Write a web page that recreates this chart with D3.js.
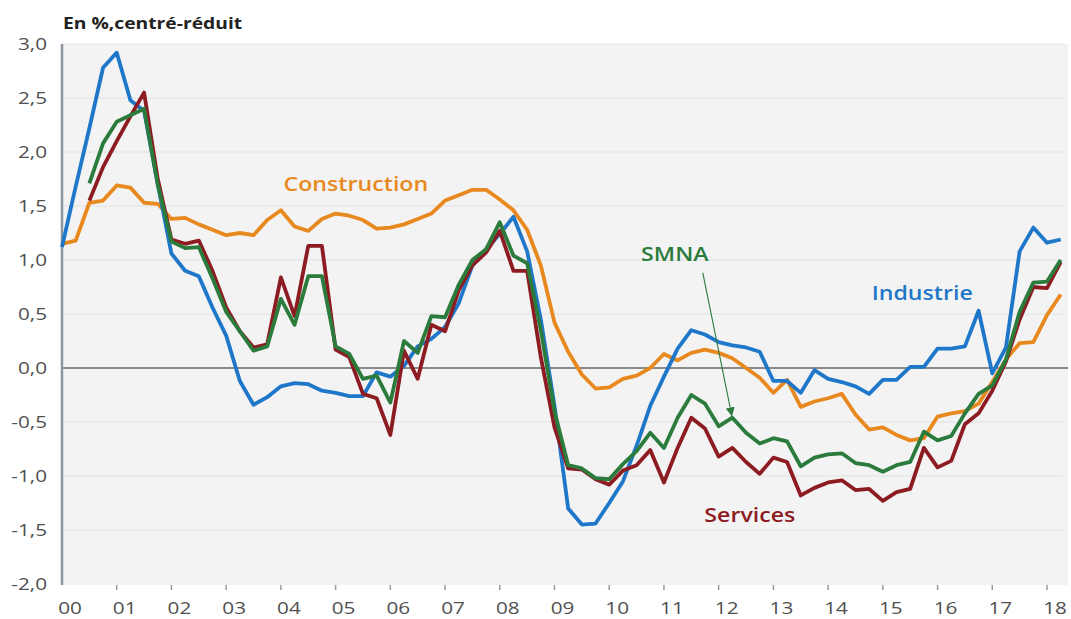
<!DOCTYPE html>
<html>
	<head>
		<meta charset="UTF-8">
		<script src="https://d3js.org/d3.v7.min.js"></script>
		<style>
			body { margin: 0; background: #fff; }
			text { font-family: "Open Sans", sans-serif; }
		</style>
	</head>
	<body>
		<svg width="1071" height="619"></svg>
		<script>
			// quarterly series, 2000Q1 .. 2018Q2 (null = not available)
			var industrie = [1.12, 1.68, 2.22, 2.78, 2.92, 2.48, 2.38, 1.70, 1.06, 0.90,
				0.85, 0.56, 0.30, -0.12, -0.34, -0.27, -0.17, -0.14, -0.15, -0.21,
				-0.23, -0.26, -0.26, -0.04, -0.08, 0.02, 0.20, 0.27, 0.38, 0.60,
				0.95, 1.10, 1.24, 1.40, 1.08, 0.45, -0.35, -1.30, -1.45, -1.44,
				-1.25, -1.05, -0.72, -0.35, -0.08, 0.18, 0.35, 0.31, 0.24, 0.21,
				0.19, 0.15, -0.12, -0.12, -0.23, -0.02, -0.10, -0.13, -0.17, -0.24,
				-0.11, -0.11, 0.01, 0.01, 0.18, 0.18, 0.20, 0.53, -0.05, 0.19,
				1.08, 1.30, 1.16, 1.19];
			var construction = [1.15, 1.18, 1.53, 1.55, 1.69, 1.67, 1.53, 1.52, 1.38, 1.39,
				1.33, 1.28, 1.23, 1.25, 1.23, 1.37, 1.46, 1.31, 1.27, 1.38,
				1.43, 1.41, 1.37, 1.29, 1.30, 1.33, 1.38, 1.43, 1.55, 1.60,
				1.65, 1.65, 1.56, 1.46, 1.28, 0.95, 0.42, 0.15, -0.06, -0.19,
				-0.18, -0.10, -0.07, 0.00, 0.13, 0.07, 0.14, 0.17, 0.14, 0.09,
				0.00, -0.09, -0.23, -0.11, -0.36, -0.31, -0.28, -0.24, -0.43, -0.57,
				-0.55, -0.62, -0.67, -0.65, -0.45, -0.42, -0.40, -0.33, -0.13, 0.08,
				0.23, 0.24, 0.49, 0.68];
			var services = [null, null, 1.55, 1.86, 2.10, 2.33, 2.55, 1.75, 1.19, 1.15,
				1.18, 0.90, 0.56, 0.34, 0.19, 0.22, 0.84, 0.48, 1.13, 1.13,
				0.17, 0.10, -0.24, -0.28, -0.62, 0.16, -0.10, 0.40, 0.34, 0.72,
				0.95, 1.07, 1.27, 0.90, 0.90, 0.10, -0.55, -0.93, -0.94, -1.03,
				-1.08, -0.95, -0.90, -0.76, -1.06, -0.74, -0.46, -0.56, -0.82, -0.74,
				-0.87, -0.98, -0.83, -0.87, -1.18, -1.11, -1.06, -1.04, -1.13, -1.12,
				-1.23, -1.15, -1.12, -0.74, -0.92, -0.86, -0.52, -0.42, -0.21, 0.06,
				0.45, 0.75, 0.74, 0.98];
			var smna = [null, null, 1.71, 2.08, 2.28, 2.34, 2.40, 1.70, 1.17, 1.11,
				1.12, 0.83, 0.52, 0.34, 0.16, 0.20, 0.64, 0.40, 0.85, 0.85,
				0.20, 0.13, -0.10, -0.07, -0.32, 0.25, 0.14, 0.48, 0.47, 0.77,
				1.00, 1.10, 1.35, 1.04, 0.97, 0.35, -0.40, -0.90, -0.93, -1.02,
				-1.03, -0.89, -0.77, -0.60, -0.74, -0.46, -0.25, -0.33, -0.54, -0.46,
				-0.60, -0.70, -0.65, -0.68, -0.91, -0.83, -0.80, -0.79, -0.88, -0.90,
				-0.96, -0.90, -0.87, -0.59, -0.67, -0.63, -0.42, -0.24, -0.16, 0.08,
				0.52, 0.79, 0.80, 1.00];

			var yearTicks = d3.range(0, 19);
			var yearLabels = ["00","01","02","03","04","05","06","07","08","09",
				"10","11","12","13","14","15","16","17","18"];
			var yTicks = [-2, -1.5, -1, -0.5, 0, 0.5, 1, 1.5, 2, 2.5, 3];

			var series = [
				{name: "Construction", values: construction, color: "#e8891f", lx: 5.37, ly: 1.70},
				{name: "Industrie", values: industrie, color: "#1f77c9", lx: 15.72, ly: 0.69},
				{name: "Services", values: services, color: "#8c1c22", lx: 12.57, ly: -1.36},
				{name: "SMNA", values: smna, color: "#2a7b3c", lx: 11.2, ly: 1.06}
			];

			var plotL = 62, plotR = 1068, plotT = 44, plotB = 584;
			var sx = 1.22; // glyphs in the original are drawn wide

			var x = d3.scaleLinear().domain([0, 18]).range([plotL, 1047]);
			var y = d3.scaleLinear().domain([-2, 3]).range([plotB, plotT]);

			var svg = d3.select("svg");

			function label(parent, px, py, str, size, weight, color, anchor) {
				return parent.append("g")
					.attr("transform", "translate(" + px + "," + py + ") scale(" + sx + ",1)")
					.append("text")
					.attr("font-size", size)
					.attr("font-weight", weight)
					.attr("fill", color)
					.attr("text-anchor", anchor)
					.text(str);
			}

			// plot panel
			svg.append("rect")
				.attr("x", plotL).attr("y", plotT)
				.attr("width", plotR - plotL).attr("height", plotB - plotT + 1)
				.attr("fill", "#f3f3f3");

			svg.append("g").selectAll("line")
				.data(yTicks.filter(function(d) { return d != 0 && d != -2; }))
				.enter().append("line")
				.attr("x1", plotL).attr("x2", plotR - 5)
				.attr("y1", function(d) { return y(d); })
				.attr("y2", function(d) { return y(d); })
				.attr("stroke", "#e1e1e1")
				.attr("stroke-width", 1.2);

			// y labels
			var fmt = d3.format(".1f");
			yTicks.forEach(function(d) {
				label(svg, 47, y(d) + 6, fmt(d).replace(".", ",").replace("−", "-"), 17, 400, "#505050", "end");
			});

			// x ticks + labels
			svg.append("g").selectAll("line")
				.data(yearTicks.slice(1))
				.enter().append("line")
				.attr("x1", function(d) { return x(d); })
				.attr("x2", function(d) { return x(d); })
				.attr("y1", plotB + 1).attr("y2", plotB + 6)
				.attr("stroke", "#9a9a9a")
				.attr("stroke-width", 1.5);
			yearTicks.forEach(function(d, i) {
				label(svg, x(d) + 8, 614, yearLabels[i], 17, 400, "#505050", "middle");
			});

			// zero line and left axis
			svg.append("line")
				.attr("x1", plotL).attr("x2", plotR)
				.attr("y1", y(0)).attr("y2", y(0))
				.attr("stroke", "#8a8a8a").attr("stroke-width", 2);
			svg.append("line")
				.attr("x1", plotL).attr("x2", plotL)
				.attr("y1", plotT).attr("y2", plotB + 1)
				.attr("stroke", "#8c96a0").attr("stroke-width", 2.5);

			// lines
			var line = d3.line()
				.defined(function(d) { return d != null; })
				.x(function(d, i) { return x(i / 4); })
				.y(function(d) { return y(d); });

			svg.append("g").selectAll("path")
				.data(series)
				.enter().append("path")
				.attr("d", function(s) { return line(s.values); })
				.attr("fill", "none")
				.attr("stroke", function(s) { return s.color; })
				.attr("stroke-width", 3.8)
				.attr("stroke-linejoin", "round");

			// series names
			series.forEach(function(s) {
				label(svg, x(s.lx), y(s.ly) + 7, s.name, 19, 600, s.color, "middle");
			});

			// arrow from SMNA label to its line
			svg.append("defs").append("marker")
				.attr("id", "arr")
				.attr("viewBox", "0 0 10 10")
				.attr("refX", 9).attr("refY", 5)
				.attr("markerWidth", 9).attr("markerHeight", 9)
				.attr("markerUnits", "userSpaceOnUse")
				.attr("orient", "auto")
				.append("path").attr("d", "M0,0 L10,5 L0,10 z").attr("fill", "#2a7b3c");
			svg.append("line")
				.attr("x1", x(11.71)).attr("y1", y(0.88))
				.attr("x2", x(12.24)).attr("y2", y(-0.44))
				.attr("stroke", "#2a7b3c").attr("stroke-width", 1.1)
				.attr("marker-end", "url(#arr)");

			// title
			label(svg, 63, 29, "En %,centré-réduit", 15.8, 700, "#222", "start");
		</script>
	</body>
</html>
